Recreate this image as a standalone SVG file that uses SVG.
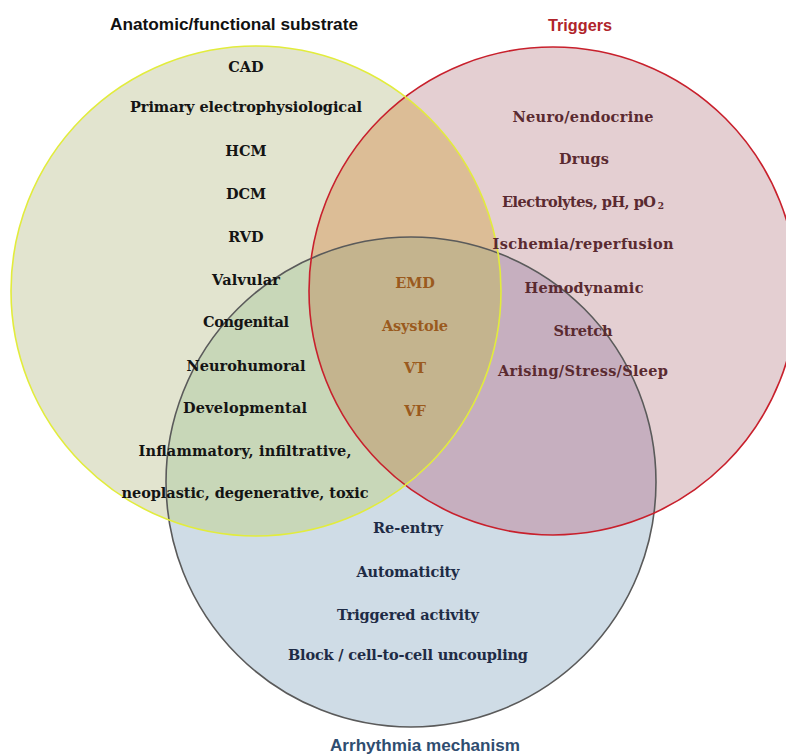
<svg xmlns="http://www.w3.org/2000/svg" width="786" height="755" viewBox="0 0 786 755">
<defs>
<clipPath id="cY"><circle cx="256" cy="291" r="245"/></clipPath>
<clipPath id="cR"><circle cx="553" cy="291" r="244"/></clipPath>
<style>
.it{font-family:"DejaVu Serif","Liberation Serif",serif;font-weight:bold;font-size:14.5px;text-anchor:middle;}
.sub{fill:#141414;}
.trg{fill:#5a2a30;}
.mid{fill:#9a5a1e;}
.mec{fill:#1e2b45;}
.ttl{font-family:"Liberation Sans","Open Sans",sans-serif;font-weight:bold;font-size:16px;text-anchor:middle;}
</style>
</defs>
<rect width="786" height="755" fill="#ffffff"/>
<g id="regions">
<circle cx="256" cy="291" r="245" fill="#e2e4cf"/>
<circle cx="553" cy="291" r="244" fill="#e4cfd2"/>
<circle cx="411" cy="482" r="245" fill="#cfdce6"/>
<circle cx="553" cy="291" r="244" fill="#dcbd96" clip-path="url(#cY)"/>
<circle cx="411" cy="482" r="245" fill="#c8d7b8" clip-path="url(#cY)"/>
<circle cx="411" cy="482" r="245" fill="#c6afbf" clip-path="url(#cR)"/>
<g clip-path="url(#cY)"><circle cx="411" cy="482" r="245" fill="#c4b48e" clip-path="url(#cR)"/></g>
</g>
<g id="outlines" fill="none" stroke-width="1.6">
<circle cx="411" cy="482" r="245" stroke="#5a5a5a"/>
<circle cx="553" cy="291" r="244" stroke="#c8202c"/>
<circle cx="256" cy="291" r="245" stroke="#e2ec3c"/>
</g>
<g id="substrate">
<text class="ttl" x="234" y="30" fill="#111111" textLength="248" lengthAdjust="spacingAndGlyphs">Anatomic/functional substrate</text>
<text class="it sub" x="246" y="72">CAD</text>
<text class="it sub" x="246" y="112" textLength="232" lengthAdjust="spacing">Primary electrophysiological</text>
<text class="it sub" x="246" y="156">HCM</text>
<text class="it sub" x="246" y="199">DCM</text>
<text class="it sub" x="246" y="242">RVD</text>
<text class="it sub" x="246" y="285" textLength="68" lengthAdjust="spacing">Valvular</text>
<text class="it sub" x="246" y="327" textLength="86" lengthAdjust="spacing">Congenital</text>
<text class="it sub" x="246" y="371" textLength="119" lengthAdjust="spacing">Neurohumoral</text>
<text class="it sub" x="245" y="413" textLength="124" lengthAdjust="spacing">Developmental</text>
<text class="it sub" x="245" y="456" textLength="213" lengthAdjust="spacing">Inflammatory, infiltrative,</text>
<text class="it sub" x="245" y="498" textLength="247" lengthAdjust="spacing">neoplastic, degenerative, toxic</text>
</g>
<g id="triggers">
<text class="ttl" x="580" y="31" fill="#b0242a" textLength="64" lengthAdjust="spacingAndGlyphs">Triggers</text>
<text class="it trg" x="583" y="122" textLength="141" lengthAdjust="spacing">Neuro/endocrine</text>
<text class="it trg" x="584" y="164" textLength="50" lengthAdjust="spacing">Drugs</text>
<text class="it trg" x="579" y="207" textLength="154" lengthAdjust="spacing">Electrolytes, pH, pO</text>
<text class="it trg" x="661" y="209" style="font-size:9px">2</text>
<text class="it trg" x="583" y="249" textLength="181" lengthAdjust="spacing">Ischemia/reperfusion</text>
<text class="it trg" x="584" y="293" textLength="119" lengthAdjust="spacing">Hemodynamic</text>
<text class="it trg" x="583" y="336" textLength="59" lengthAdjust="spacing">Stretch</text>
<text class="it trg" x="583" y="376" textLength="170" lengthAdjust="spacing">Arising/Stress/Sleep</text>
</g>
<g id="center">
<text class="it mid" x="415" y="288">EMD</text>
<text class="it mid" x="415" y="331" textLength="66" lengthAdjust="spacing">Asystole</text>
<text class="it mid" x="415" y="373">VT</text>
<text class="it mid" x="415" y="416">VF</text>
</g>
<g id="mechanism">
<text class="it mec" x="408" y="533" textLength="70" lengthAdjust="spacing">Re-entry</text>
<text class="it mec" x="408" y="577" textLength="103" lengthAdjust="spacing">Automaticity</text>
<text class="it mec" x="408" y="620" textLength="142" lengthAdjust="spacing">Triggered activity</text>
<text class="it mec" x="408" y="660" textLength="240" lengthAdjust="spacing">Block / cell-to-cell uncoupling</text>
<text class="ttl" x="425" y="751" fill="#2f4d70" textLength="190" lengthAdjust="spacingAndGlyphs">Arrhythmia mechanism</text>
</g>
</svg>
